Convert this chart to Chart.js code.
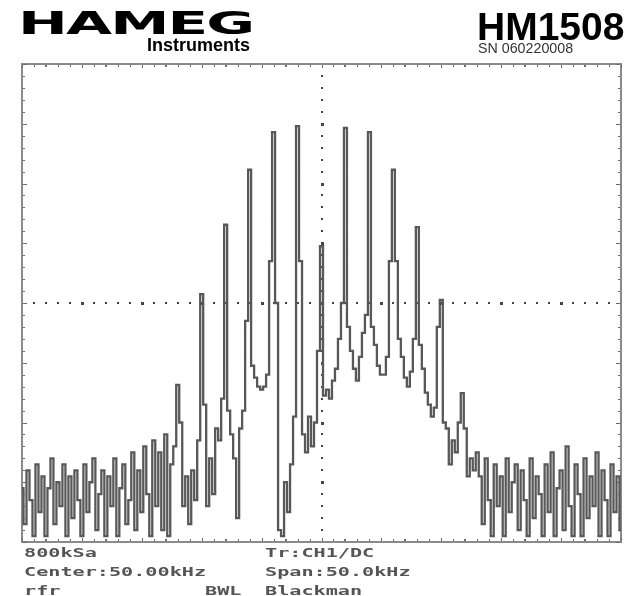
<!DOCTYPE html>
<html>
<head>
<meta charset="utf-8">
<script src="https://cdn.jsdelivr.net/npm/chart.js@4.4.1/dist/chart.umd.min.js"></script>
<style>
  html, body { margin: 0; padding: 0; background: #fff; }
  #wrap { position: relative; width: 633px; height: 596px; overflow: hidden; background: #fff; }
  #scope { position: absolute; left: 0; top: 0; }
  .t { position: absolute; white-space: pre; line-height: 1; transform-origin: 0 0; }
  .brand { font-family: "Liberation Sans", Arial, sans-serif; font-weight: bold; color: #000; }
  .logo { font-family: "DejaVu Sans", sans-serif; font-weight: bold; color: #000; }
  .stat { font-family: "DejaVu Sans Mono", monospace; font-weight: bold; font-size: 12px; color: #555; transform: scaleX(1.68); }
</style>
</head>
<body>
<div id="wrap">
  <canvas id="scope" width="633" height="596"></canvas>
  <div class="t logo" style="left:18px;top:7px;font-size:32px;letter-spacing:-1px;transform:scaleX(1.86);">HAMEG</div>
  <div class="t brand" style="left:147px;top:36px;font-size:18px;">Instruments</div>
  <div class="t brand" style="left:477px;top:7px;font-size:39px;">HM1508</div>
  <div class="t brand" style="left:478px;top:40px;font-size:15px;font-weight:normal;color:#333;transform:scaleX(0.95);">SN 060220008</div>
  <div class="t stat" style="left:24px;top:547px;">800kSa</div>
  <div class="t stat" style="left:265px;top:547px;">Tr:CH1/DC</div>
  <div class="t stat" style="left:24px;top:566px;">Center:50.00kHz</div>
  <div class="t stat" style="left:265px;top:566px;">Span:50.0kHz</div>
  <div class="t stat" style="left:24px;top:585px;">rfr</div>
  <div class="t stat" style="left:205px;top:585px;">BWL</div>
  <div class="t stat" style="left:265px;top:585px;">Blackman</div>
</div>
<script>
// Frequency axis: center 50 kHz, span 50 kHz, FFT bins 0.25 kHz apart
const startKHz = 25;
const stopKHz = 75;
const binKHz = 0.25;

// Level in display units (10 units per vertical division, 8 divisions)
const levelMin = 0;
const levelMax = 80;

// Noise floor below the sidebands (25.00 .. 37.25 kHz)
const noiseLow = [
  9, 3, 12, 7, 1, 13, 5, 11, 1, 9,
  14, 3, 10, 6, 13, 1, 11, 4, 12, 7,
  1, 13, 5, 10, 14, 2, 8, 12, 1, 11,
  6, 14, 1, 9, 13, 3, 7, 15, 2, 12,
  5, 16, 8, 1, 17, 6, 15, 2, 18, 1
];

// Carrier and sideband lines (37.50 .. 63.00 kHz), lines 2 kHz apart
const sidebands = [
  13, 16, 26.3, 20, 6, 11, 3, 12, 7, 17,
  41.5, 23, 6, 14, 8, 19, 17, 24, 53.1, 22,
  18, 14, 4, 19, 22, 37, 62.3, 29.5, 27.5, 26,
  25.5, 26, 28, 47, 68.6, 40, 2, 1, 10, 5,
  13, 21, 69.6, 47, 18, 15, 21, 16, 20, 32,
  49.5, 24.5, 25.5, 24, 27, 29, 34, 40, 69.3, 36,
  32, 29, 27, 31, 35, 38, 68.6, 36, 33, 29.5,
  28, 28, 31, 47, 62.3, 47, 34, 31, 27.5, 26,
  28.5, 34, 52.7, 33, 29, 25, 23, 21, 22.5, 36,
  40.5, 20, 19, 13, 17, 15, 20, 24.9, 19, 11,
  14, 12, 15
];

// Noise floor above the sidebands (63.25 .. 75.00 kHz)
const noiseHigh = [
  11, 3, 14, 7, 1, 13, 6, 11, 1, 14,
  5, 10, 13, 2, 12, 7, 1, 14, 4, 11,
  8, 1, 13, 5, 15, 1, 9, 12, 2, 16,
  6, 1, 13, 8, 1, 14, 4, 11, 6, 15,
  1, 12, 7, 1, 13, 5, 11, 2
];

const levels = noiseLow.concat(sidebands, noiseHigh);
const spectrum = levels.map((v, i) => ({ x: startKHz + i * binKHz, y: v }));

// Graticule: frame with minor ticks and a dotted centre cross
const graticule = {
  id: 'graticule',
  beforeDatasetsDraw(chart) {
    const { ctx, chartArea: a, scales: { x, y } } = chart;
    ctx.save();
    ctx.strokeStyle = '#8a8a8a';
    ctx.lineWidth = 2;
    ctx.strokeRect(a.left, a.top, a.right - a.left, a.bottom - a.top);

    ctx.fillStyle = '#6a6a6a';
    // ticks along top and bottom edges, every 1 kHz
    for (let k = 0; k <= 50; k++) {
      const px = Math.round(x.getPixelForValue(startKHz + k));
      const major = k % 5 === 0;
      const len = major ? 3 : 2;
      ctx.fillRect(px, a.top + 1, 1, len);
      ctx.fillRect(px, a.bottom - 1 - len, 1, len);
      if (k % 5 === 2) {
        ctx.fillRect(px - 1, a.top + 1, 2, 2);
        ctx.fillRect(px - 1, a.bottom - 3, 2, 2);
      }
    }
    // ticks along left and right edges, every 2 units
    for (let k = 0; k <= 40; k++) {
      const py = Math.round(y.getPixelForValue(levelMin + k * 2));
      const major = k % 5 === 0;
      const len = major ? 4 : 2;
      ctx.fillRect(a.left + 1, py, len, 1);
      ctx.fillRect(a.right - 1 - len, py, len, 1);
    }

    // dotted centre cross
    const cx = Math.round(x.getPixelForValue((startKHz + stopKHz) / 2));
    const cy = Math.round(y.getPixelForValue((levelMin + levelMax) / 2));
    ctx.fillStyle = '#444';
    for (let k = 1; k < 50; k++) {
      const px = Math.round(x.getPixelForValue(startKHz + k));
      const s = k % 5 === 0 ? 3 : 2;
      ctx.fillRect(px - 1, cy - 1, s, s);
    }
    for (let k = 1; k < 40; k++) {
      const py = Math.round(y.getPixelForValue(levelMin + k * 2));
      const s = k % 5 === 0 ? 3 : 2;
      ctx.fillRect(cx - 1, py - 1, s, s);
    }
    ctx.restore();
  }
};

new Chart(document.getElementById('scope'), {
  type: 'line',
  data: {
    datasets: [{
      data: spectrum,
      borderColor: '#585858',
      borderWidth: 2.3,
      pointRadius: 0,
      stepped: 'middle',
      fill: false
    }]
  },
  options: {
    responsive: false,
    animation: false,
    devicePixelRatio: 1,
    layout: { padding: { left: 22, right: 12, top: 64, bottom: 54 } },
    scales: {
      x: { type: 'linear', min: startKHz, max: stopKHz, display: false },
      y: { min: levelMin, max: levelMax, display: false }
    },
    plugins: { legend: { display: false }, tooltip: { enabled: false } }
  },
  plugins: [graticule]
});
</script>
</body>
</html>
